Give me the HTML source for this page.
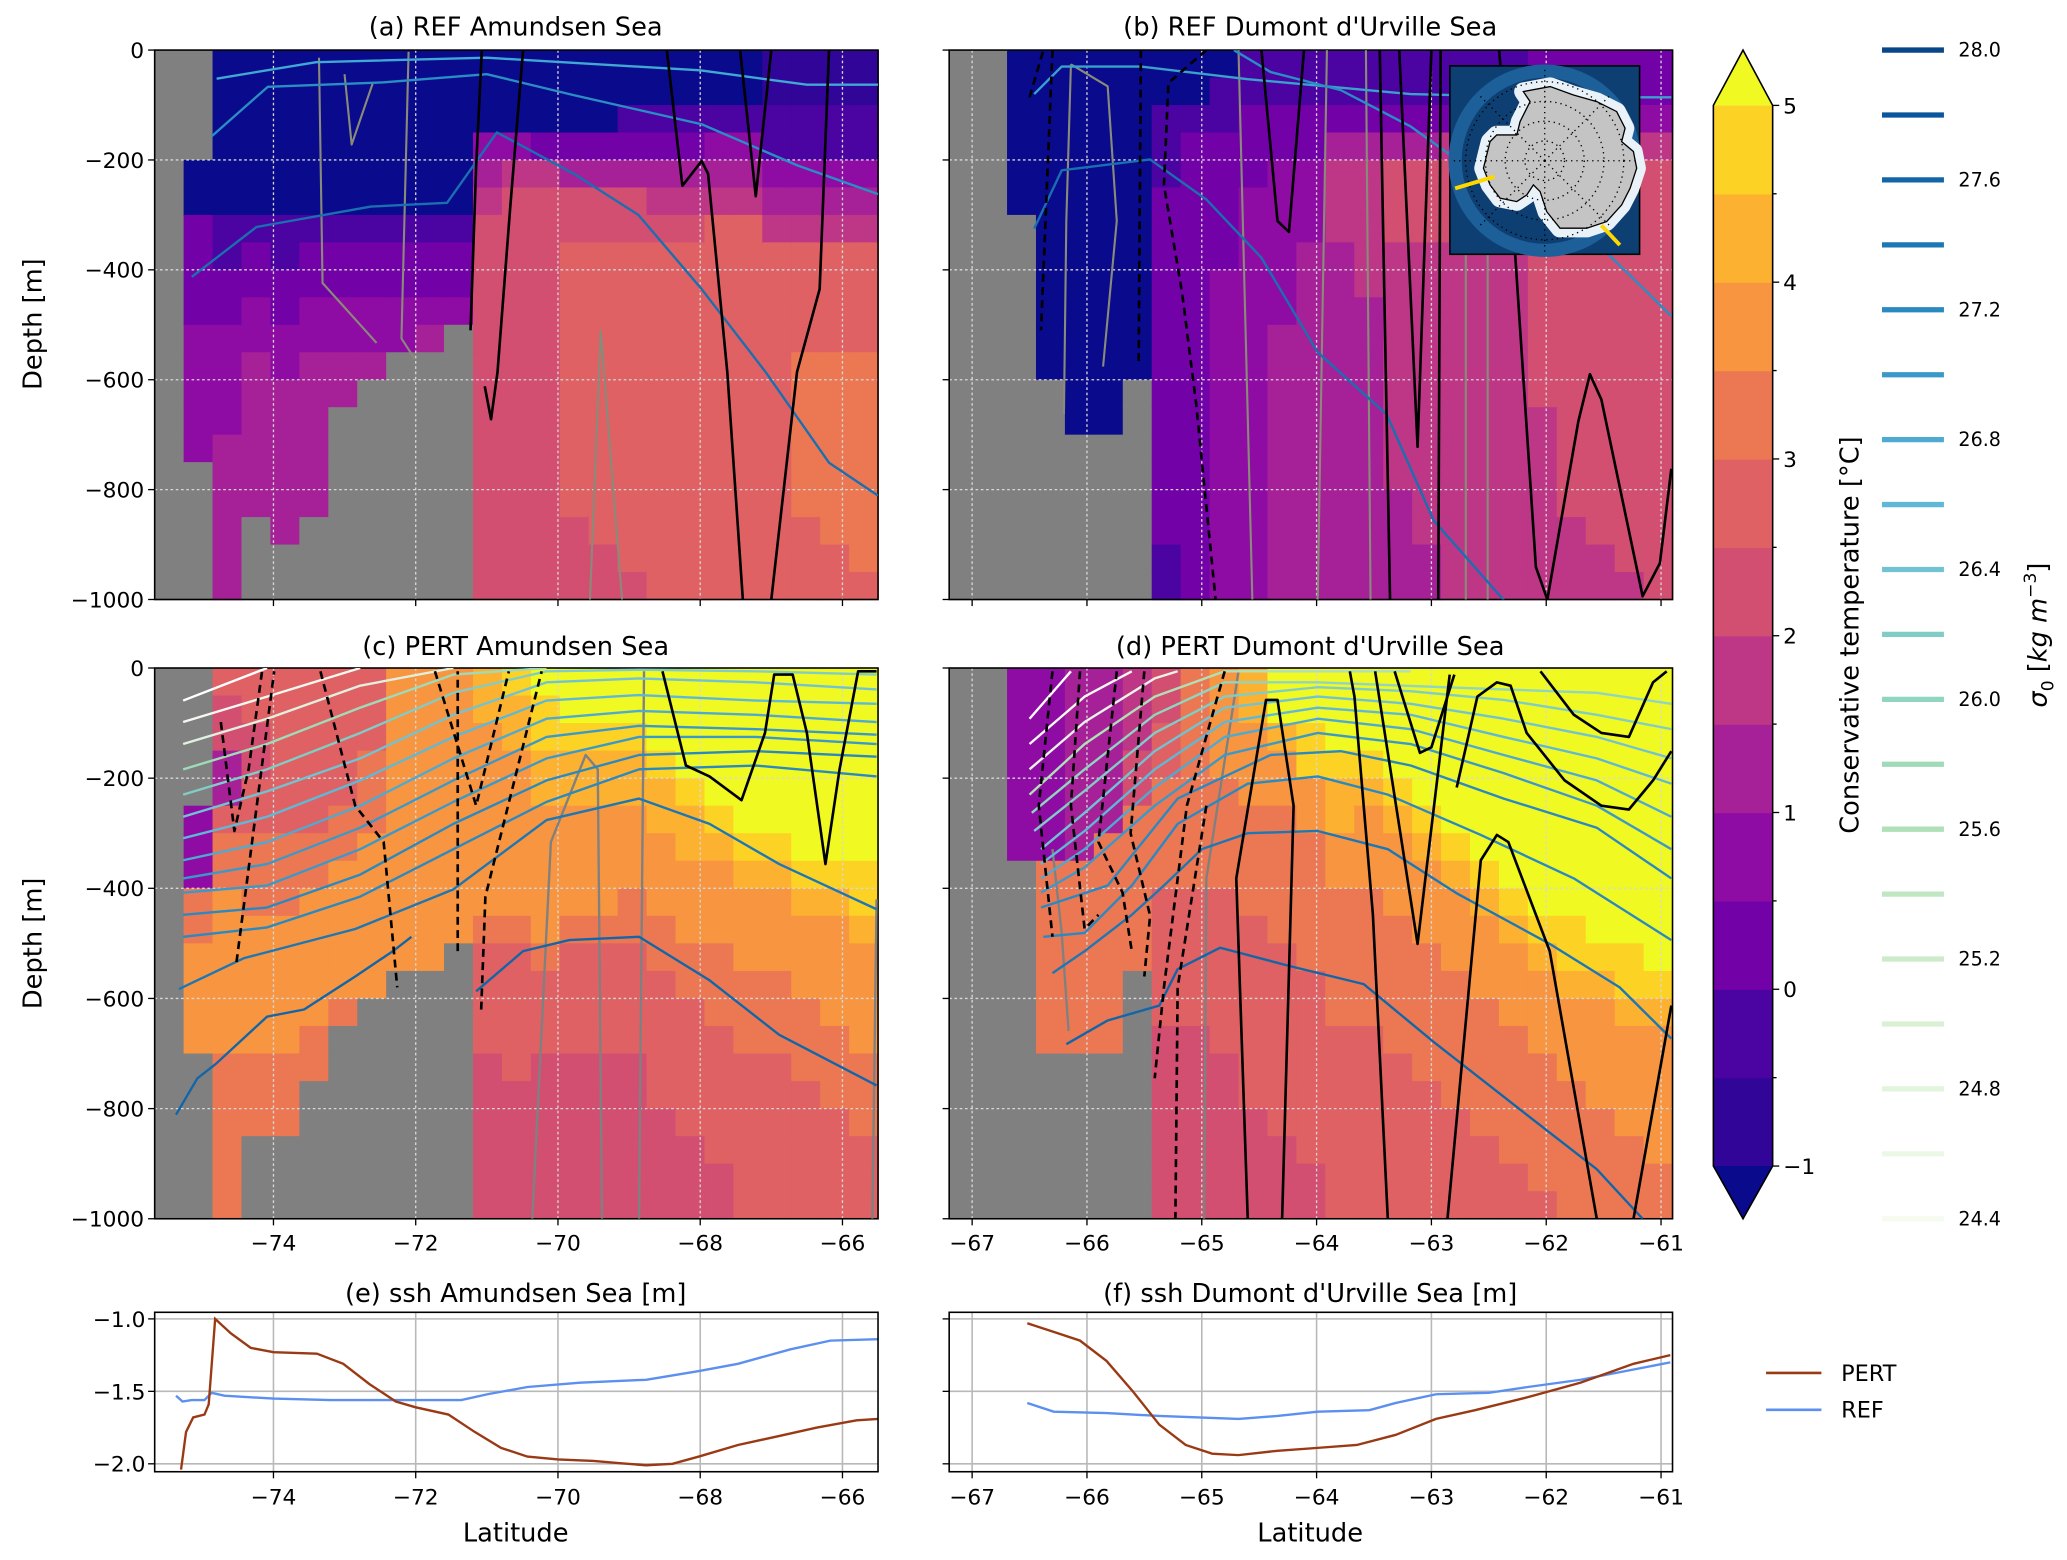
<!DOCTYPE html>
<html><head><meta charset="utf-8">
<style>
html,body{margin:0;padding:0;background:#fff;}
svg{display:block;}
text{font-family:"DejaVu Sans","Liberation Sans",sans-serif;fill:#000;}
</style></head>
<body>
<svg id="fig" xmlns="http://www.w3.org/2000/svg" width="2067" height="1560" viewBox="0 0 1568 1184">
<rect x="0" y="0" width="1568" height="1184" fill="#fff"/>
</svg>
<script>
// ---------- DATA ----------
const tempA = ["gggggggggggggggggggg","gggguu222233333ggggg","uuuuuu11223333444444","uuuuuu12233444444ggg","uuuuuu112233444444gg","uuuuuu12233444444ggg","uuuuuu1223344ggggggg","uuuuuu122334gggggggg","uuuuuu12233ggggggggg","uuuuuu12234ggggggggg","uuuuuu1223gggggggggg","uuu34566666666666666","uuu35666666666666666","uuu25666666666666666","uuu24667777777777666","uuu24667777777777766","uu124667777777777776","uu124567777777777777","uu124567777777777777","uu134577777777777777","uu134577777777777777","00113457777777777777","00113457777888888777","00113457777888888877","00113457777888888887"];
const tempB = ["gggggggggggggggggggg","gggggggggggggggggggg","uuuuuugggggggggggggg","uuuuuuuuuuuugggggggg","uuuuuuuuuuuuuugggggg","uuuuuuuuuuuuuugggggg","uuuuuuuuuuuugggggggg","uu111222222222222211","uu122222222222222222","u1122222333333333333","11222333333333333333","11223333334444444444","11223334444444444444","11245554444444444444","11245555544444444444","11246665555555554444","11246665555555555544","11256665555555555555","11256665555555555555","12355555555555555555","22356666666665555555","22356666666666666555","22356666666666666655","22356666666666666665","22356666666666666666"];
const tempC = ["gggggggggggggggggggg","ggggg333889999gggggg","76644788999999888888","77667788899999888ggg","77777788899999888ggg","777777889999988ggggg","7777788999998ggggggg","777888999999gggggggg","99999999999ggggggggg","99999999999ggggggggg","9999999999gggggggggg","aa999999987777666666","baa99999987777766666","cbbaa999998777666666","ccbaa999987777666666","ccbaa999987777666666","ccbaa999887777666666","cccbaa99988777776666","ccccbaa9998877777666","cccccba9998887777766","ccccccba999888777777","ccccccba999888777777","cccccccba99988877777","cccccccba99998887777","cccccccbba9999888777"];
const tempD = ["gggggggggggggggggggg","gggggggggggggggggggg","3333333ggggggggggggg","33333338888888gggggg","44444448888888gggggg","44444488888888gggggg","55566888888ggggggggg","66778888777776666666","88888888777776666666","99998888777777666666","aa999888877777776666","cca99888887777777666","ccbb9988888777777766","cccbaa99888887777777","cccba999888887777777","ccccba99988888777777","cccccba9998888877777","ccccccba999888887777","cccccccba99988888777","ccccccccba9998888877","cccccccccba999888887","cccccccccbba99988888","ccccccccccba99998888","ccccccccccbba9999888","cccccccccccba9999988"];

const isoALat = [[-74.8,-73.4,-71,-68,-66.5,-65.5],[-74.87,-74.08,-72.47,-71.0,-69.78,-67.98,-66.63,-65.5],[-75.15,-74.24,-72.63,-71.56,-70.86,-69.78,-68.87,-67.98,-67.08,-66.19,-65.5]];
const isoADep = [[52,22,14,37,63,63],[157,67,59,44,82,135,210,262],[413,322,285,278,150,225,300,435,586,751,811]];
const velALat = [[-71.23,-71.15,-71.07],[-70.49,-70.67,-70.85,-70.94,-71.03],[-68.47,-68.25,-67.98,-67.89,-67.62,-67.4],[-67.44,-67.22,-67.0],[-66.19,-66.32,-66.64,-67.0]];
const velADep = [[510,210,0],[0,285,586,672,612],[0,247,202,225,586,1000],[0,266,0],[0,435,586,1000]];
const grayALat = [[-69.55,-69.4,-69.1],[-73.36,-73.31,-72.55],[-72.1,-72.2,-72.01],[-73.0,-72.9,-72.6]];
const grayADep = [[1000,510,1000],[14,424,533],[3,525,563],[44,172,59]];

const isoBLat = [[-66.46,-66.22,-65.53,-64.6,-63.18,-61.97,-60.91],[-66.46,-66.22,-65.45,-64.96,-64.48,-63.99,-63.39,-62.98,-62.37],[-64.72,-64.4,-63.79,-63.18,-62.78,-61.97,-61.56,-60.91]];
const isoBDep = [[80,30,30,53,80,86,86],[325,219,199,272,378,550,663,856,1001],[0,40,73,139,199,278,351,484]];
const velBLat = [[-64.48,-64.34,-64.24,-64.11],[-63.45,-63.36],[-63.28,-63.12,-63.0],[-62.92,-62.94],[-62.41,-62.29,-62.09,-61.99,-61.72,-61.62,-61.52,-61.16,-61.01,-60.91]];
const velBDep = [[0,311,331,0],[0,1000],[0,722,0],[0,1000],[0,311,941,1000,676,590,636,994,934,762]];
const dashBLat = [[-66.5,-66.38],[-66.3,-66.4],[-65.53,-65.55],[-64.96,-65.29,-65.33,-65.17,-65.05,-64.88]];
const dashBDep = [[86,0],[0,510],[0,570],[0,60,245,444,643,1000]];
const grayBLat = [[-66.14,-65.82,-65.74,-65.86],[-66.14,-66.18,-66.2],[-64.68,-64.56],[-63.91,-63.99],[-63.57,-63.53],[-62.7,-62.7],[-62.51,-62.51]];
const grayBDep = [[26,66,311,576],[26,311,663],[0,1000],[0,1000],[0,1000],[200,1000],[200,1000]];

const latS = [-75.27,-74.09,-72.78,-71.47,-70.16,-68.86,-67.22,-65.52];
const isoCLat = [[-75.37,-75.07,-74.81,-74.09,-73.57,-72.85,-72.32,-72.06],[-71.15,-70.49,-69.84,-68.86,-67.87,-66.89,-65.52],[-75.33,-74.42,-72.85,-71.47,-70.16,-68.86,-67.87,-66.89,-65.52],latS,latS,latS,latS,latS,latS,latS,latS,latS.slice(0,5),latS.slice(0,4),latS.slice(0,3),latS.slice(0,2)];
const isoCDep = [[811,745,719,633,620,560,514,488],[587,514,494,488,567,666,758],[583,527,474,402,276,237,283,356,438],[488,471,415,329,243,184,177,197],[448,435,375,283,204,158,151,161],[408,395,329,243,164,125,125,138],[382,356,290,204,125,105,111,121],[349,316,250,164,92,78,85,98],[309,270,204,125,59,49,59,65],[270,224,164,85,26,19,26,39],[230,184,118,45,6,3,6,12],[184,138,72,12,0],[138,92,32,0],[98,52,0],[59,0]];
const velCLat = [[-68.53,-68.2,-67.87,-67.42,-67.09,-66.96,-66.7,-66.5,-66.24,-66.04,-65.78,-65.52]];
const velCDep = [[6,177,197,240,118,12,12,118,356,184,6,6]];
const dashCLat = [[-74.74,-74.55,-74.35,-74.16],[-74.52,-73.99],[-73.34,-72.85,-72.45,-72.26],[-71.41,-71.41],[-71.08,-71.02,-70.23],[-71.73,-71.15,-70.69]];
const dashCDep = [[98,296,184,6],[534,6],[6,250,316,580],[514,6],[620,415,6],[6,250,6]];
const grayCLat = [[-70.36,-70.1,-69.61,-69.44,-69.38],[-68.86,-68.79],[-65.58,-65.52]];
const grayCDep = [[1000,316,158,184,1000],[1000,6],[1000,420]];

const isoDLat = [[-66.18,-65.82,-65.37,-65.21,-64.84,-64.24,-63.59,-62.98,-62.17,-61.56,-61.16],[-66.3,-66.02,-65.61,-65.33,-65.0,-64.6,-63.99,-63.38,-62.78,-61.97,-61.36,-60.91],[-66.38,-66.02,-65.61,-65.21,-64.6,-63.99,-63.38,-62.57,-61.76,-60.91],[-66.4,-65.82,-65.21,-64.4,-63.79,-63.18,-62.37,-61.56,-60.91],[-66.4,-66.02,-65.41,-64.8,-63.99,-63.18,-62.37,-61.56,-60.91],[-66.4,-66.02,-65.41,-64.8,-63.99,-63.18,-62.37,-61.56,-60.91],[-66.4,-66.02,-65.41,-64.8,-63.99,-63.18,-62.37,-61.56,-60.91],[-66.4,-66.02,-65.41,-64.8,-63.99,-63.18,-62.37,-61.56,-60.91],[-66.46,-66.02,-65.41,-64.8,-63.99,-63.18,-62.37,-61.56,-60.91],[-66.48,-66.02,-65.41,-64.8,-63.99,-62.37,-61.56,-60.91],[-66.5,-66.02,-65.41,-64.8,-63.18],[-66.5,-66.02,-65.41,-65.21],[-66.5,-66.02,-65.61],[-66.5,-66.14]];
const isoDDep = [[683,640,613,547,508,541,574,679,811,910,1000],[554,514,448,395,329,300,296,329,409,501,580,673],[488,481,395,283,210,197,230,303,382,494],[435,395,237,158,151,177,237,290,382],[408,362,250,158,118,138,191,250,329],[382,329,217,125,92,111,158,204,270],[356,296,184,98,72,85,125,164,210],[329,263,151,72,52,65,92,125,164],[296,223,118,52,35,42,58,85,111],[263,184,85,26,26,39,45,65],[230,138,52,6,6],[184,98,19,6],[138,52,6],[92,6]];
const velDLat = [[-64.6,-64.7,-64.44,-64.34,-64.2,-64.3],[-63.71,-63.67,-63.51,-63.38],[-63.49,-63.12,-62.84],[-63.32,-63.1,-63.0,-62.8],[-62.86,-62.57,-62.43,-62.33,-61.97,-61.56],[-62.78,-62.6,-62.43,-62.31,-62.17,-61.84,-61.52,-61.28,-61.07,-60.91],[-62.05,-61.76,-61.52,-61.28,-61.07,-60.95],[-61.24,-60.91]];
const velDDep = [[1000,382,58,58,250,1000],[6,52,448,1000],[6,501,12],[6,154,144,12],[1000,349,303,316,514,1000],[217,52,26,32,118,204,250,257,204,151],[6,85,118,125,26,6],[1000,613]];
const dashDLat = [[-66.3,-66.42,-66.3],[-66.06,-66.14,-66.02,-65.9],[-65.74,-65.9,-65.69,-65.61],[-65.5,-65.62,-65.45,-65.5],[-64.8,-65.13,-65.33,-65.41],[-64.96,-65.21,-65.23]];
const dashDDep = [[6,250,488],[6,250,474,448],[6,316,408,514],[6,300,450,560],[6,250,580,745],[250,580,1000]];
const grayDLat = [[-64.68,-64.96,-64.98],[-66.3,-66.22,-66.16]];
const grayDDep = [[6,382,1000],[329,481,659]];

const sshELatPert = [-75.3,-75.23,-75.13,-74.97,-74.91,-74.82,-74.6,-74.32,-74.0,-73.39,-73.02,-72.65,-72.28,-72.0,-71.54,-71.17,-70.8,-70.43,-70.0,-69.5,-69.13,-68.76,-68.39,-68.02,-67.47,-66.91,-66.36,-65.8,-65.5];
const sshEPert = [-2.04,-1.78,-1.68,-1.66,-1.59,-1.0,-1.10,-1.20,-1.23,-1.24,-1.31,-1.45,-1.57,-1.61,-1.66,-1.78,-1.89,-1.95,-1.97,-1.98,-1.995,-2.01,-2.0,-1.95,-1.87,-1.81,-1.75,-1.70,-1.69];
const sshELatRef = [-75.37,-75.28,-75.15,-74.97,-74.87,-74.69,-74.0,-73.2,-72.28,-71.36,-70.99,-70.43,-69.69,-68.76,-68.02,-67.47,-66.73,-66.17,-65.5];
const sshERef = [-1.53,-1.57,-1.56,-1.56,-1.51,-1.53,-1.55,-1.56,-1.56,-1.56,-1.52,-1.47,-1.44,-1.42,-1.36,-1.31,-1.21,-1.15,-1.14];
const sshFLatPert = [-66.52,-66.29,-66.06,-65.83,-65.6,-65.37,-65.14,-64.91,-64.68,-64.34,-63.99,-63.65,-63.31,-62.96,-62.62,-62.16,-61.7,-61.24,-60.92];
const sshFPert = [-1.03,-1.09,-1.15,-1.29,-1.50,-1.73,-1.87,-1.93,-1.94,-1.91,-1.89,-1.87,-1.80,-1.69,-1.63,-1.54,-1.44,-1.31,-1.25];
const sshFLatRef = [-66.52,-66.29,-65.83,-65.37,-64.68,-64.34,-63.99,-63.54,-63.31,-62.96,-62.5,-62.16,-61.7,-60.92];
const sshFRef = [-1.58,-1.64,-1.65,-1.67,-1.69,-1.67,-1.64,-1.63,-1.58,-1.52,-1.51,-1.47,-1.42,-1.30];

const latTicksA = [-74,-72,-70,-68,-66];
const latTicksB = [-67,-66,-65,-64,-63,-62,-61];
const depthTicks = [0,-200,-400,-600,-800,-1000];
const sshTicks = [-1.0,-1.5,-2.0];
const cbTicks = [-1,0,1,2,3,4,5];
const sigmaLevels = [28.0,27.8,27.6,27.4,27.2,27.0,26.8,26.6,26.4,26.2,26.0,25.8,25.6,25.4,25.2,25.0,24.8,24.6,24.4];

// ---------- DRAWING ----------
const NS="http://www.w3.org/2000/svg";
const svg=document.getElementById('fig');
function mk(tag,attrs,parent){const e=document.createElementNS(NS,tag);for(const k in attrs)e.setAttribute(k,attrs[k]);(parent||svg).appendChild(e);return e;}
function txt(s,x,y,size,anchor,parent){const t=mk('text',{x:x,y:y,'font-size':size,'text-anchor':anchor||'middle'},parent);t.textContent=s;return t;}
const bandCol={u:'#0a0a8c','0':'#300597','1':'#4b03a1','2':'#7201a8','3':'#8e0ca4','4':'#a62098','5':'#bd3786','6':'#d24f71','7':'#df6164','8':'#ec7853','9':'#f89540',a:'#fdb130',b:'#fcd225',c:'#f0f921',g:'#808080'};
const sigPal=['#08468a','#0a559c','#1266a8','#1c77b4','#2a89c0','#3b99c9','#4eaad1','#5fb9d6','#72c3d1','#80cdc6','#8fd5c0','#9fdab9','#b0e0b7','#c0e6c2','#cdebca','#d9f0d4','#e3f4dd','#ecf8e6','#f5fbef'];

function makePanel(x0,x1,y0,y1,lat0,lat1){return {x0,x1,y0,y1,lat0,lat1,sx:l=>x0+(l-lat0)/(lat1-lat0)*(x1-x0),sy:d=>y0+d/1000*(y1-y0)};}
const PA=makePanel(117,666,38,455,-75.67,-65.5);
const PB=makePanel(720,1269,38,455,-67.2,-60.9);
const PC=makePanel(117,666,507,925,-75.67,-65.5);
const PD=makePanel(720,1269,507,925,-67.2,-60.9);

function drawField(P,cols,name){
  const g=mk('g',{});
  
  
  const nc=cols.length, dl=(P.lat1-P.lat0)/nc;
  for(let i=0;i<nc;i++){
    const xa=P.sx(P.lat0+i*dl), xb=P.sx(P.lat0+(i+1)*dl);
    for(let j=0;j<cols[i].length;j++){
      const ya=P.sy(j*50), yb=P.sy((j+1)*50);
      const r=mk('rect',{x:xa,y:ya,width:xb-xa+0.6,height:yb-ya+0.6,fill:bandCol[cols[i][j]]},g);
      
      
    }
  }
}
function drawLines(P,lats,deps,color,w,dash,name){
  for(let k=0;k<lats.length;k++){
    const pts=lats[k].map((l,i)=>P.sx(l).toFixed(1)+','+P.sy(deps[k][i]).toFixed(1)).join(' ');
    const c=Array.isArray(color)?color[k]:color;
    const p=mk('polyline',{points:pts,fill:'none',stroke:c,'stroke-width':w,'stroke-linejoin':'round','clip-path':'url(#clip'+name[0]+')'});
    if(dash)p.setAttribute('stroke-dasharray',dash);
    
    
  }
}
const defs=mk('defs',{});
[['a',PA],['b',PB],['c',PC],['d',PD]].forEach(([n,P])=>{const cp=mk('clipPath',{id:'clip'+n},defs);mk('rect',{x:P.x0,y:P.y0,width:P.x1-P.x0,height:P.y1-P.y0},cp);});

function gridAndAxes(P,ticks,showX,showY,name){
  ticks.forEach(t=>{const l=mk('line',{x1:P.sx(t),x2:P.sx(t),y1:P.y0,y2:P.y1,stroke:'#d8d8d8','stroke-width':1,'stroke-dasharray':'2,2'});
    });
  depthTicks.slice(1,5).forEach(t=>{const l=mk('line',{x1:P.x0,x2:P.x1,y1:P.sy(-t),y2:P.sy(-t),stroke:'#d8d8d8','stroke-width':1,'stroke-dasharray':'2,2'});
    });
  const f=mk('rect',{x:P.x0,y:P.y0,width:P.x1-P.x0,height:P.y1-P.y0,fill:'none',stroke:'#000','stroke-width':1.2});
  
  ticks.forEach(t=>{mk('line',{x1:P.sx(t),x2:P.sx(t),y1:P.y1,y2:P.y1+5,stroke:'#000','stroke-width':1});
    if(showX){const tx=txt('\u2212'+Math.abs(t),P.sx(t),P.y1+24,16.5);}});
  depthTicks.forEach(t=>{mk('line',{x1:P.x0-5,x2:P.x0,y1:P.sy(-t),y2:P.sy(-t),stroke:'#000','stroke-width':1});
    if(showY){const tx=txt(t===0?'0':'\u2212'+Math.abs(t),P.x0-8,P.sy(-t)+6,16.5,'end');}});
}

drawField(PA,tempA,'panel-a');drawField(PB,tempB,'panel-b');drawField(PC,tempC,'panel-c');drawField(PD,tempD,'panel-d');
gridAndAxes(PA,latTicksA,false,true,'panel-a');
gridAndAxes(PB,latTicksB,false,false,'panel-b');
gridAndAxes(PC,latTicksA,true,true,'panel-c');
gridAndAxes(PD,latTicksB,true,false,'panel-d');

drawLines(PA,grayALat,grayADep,'#8a8a7a',1.6,null,'a-gray');
drawLines(PA,isoALat,isoADep,['#3fa8d4','#2a8dc4','#1a6fb0'],1.8,null,'a-isopycnal');
drawLines(PA,velALat,velADep,'#000',2,null,'a-velocity');
drawLines(PB,grayBLat,grayBDep,'#8a8a7a',1.6,null,'b-gray');
drawLines(PB,isoBLat,isoBDep,['#3aa0cc','#1a6fb0','#2a8dc4'],1.8,null,'b-isopycnal');
drawLines(PB,velBLat,velBDep,'#000',2,null,'b-velocity');
drawLines(PB,dashBLat,dashBDep,'#000',2,'6,4','b-velocity-neg');
const cIsoCols=[sigPal[2],sigPal[2],sigPal[3],sigPal[4],sigPal[4],sigPal[5],sigPal[5],sigPal[6],sigPal[7],sigPal[8],sigPal[9],sigPal[11],'#e0f0e0','#f4f8f0','#ffffff'];
drawLines(PC,grayCLat,grayCDep,'#808080',1.8,null,'c-gray');
drawLines(PC,isoCLat,isoCDep,cIsoCols,1.8,null,'c-isopycnal');
drawLines(PC,velCLat,velCDep,'#000',2,null,'c-velocity');
drawLines(PC,dashCLat,dashCDep,'#000',2,'6,4','c-velocity-neg');
const dIsoCols=[sigPal[2],sigPal[3],sigPal[4],sigPal[4],sigPal[5],sigPal[6],sigPal[7],sigPal[8],sigPal[9],sigPal[10],sigPal[12],'#e8f4e8','#f6faf2','#ffffff'];
drawLines(PD,grayDLat,grayDDep,'#808080',1.8,null,'d-gray');
drawLines(PD,isoDLat,isoDDep,dIsoCols,1.8,null,'d-isopycnal');
drawLines(PD,velDLat,velDDep,'#000',2,null,'d-velocity');
drawLines(PD,dashDLat,dashDDep,'#000',2,'6,4','d-velocity-neg');

// inset map
(function(){
  const g=mk('g',{});
  
  
  mk('rect',{x:1100,y:50,width:144,height:143,fill:'#0d3f73',stroke:'#000','stroke-width':1.2},g);
  mk('circle',{cx:1172,cy:122,r:68,fill:'none',stroke:'#1c5f99','stroke-width':10},g);
  const cont='M1155.8,69.5 L1176.1,65.7 L1193.8,72.1 L1211.5,77.1 L1226.6,84.7 L1233,97.3 L1230.4,107.5 L1239.3,115 L1241.8,127.7 L1236.8,142.9 L1230.4,155.5 L1219,168.2 L1203.9,173.2 L1183.6,173.2 L1173.5,160.6 L1168.5,145.4 L1163.4,140.3 L1158.4,147.9 L1150.8,153 L1138.1,150.4 L1130.5,140.3 L1125.5,127.7 L1130.5,107.5 L1135.6,102.4 L1150.8,102.4 L1153.3,92.3 L1160.9,77.1 Z';
  mk('path',{d:cont,fill:'#e8f2f8',stroke:'#e8f2f8','stroke-width':14,'stroke-linejoin':'round'},g);
  mk('path',{d:cont,fill:'#c4c4c4',stroke:'#000','stroke-width':1},g);
  [15,30,45,60].forEach(r=>mk('circle',{cx:1172,cy:122,r:r,fill:'none',stroke:'#000','stroke-width':1,'stroke-dasharray':'1,3'},g));
  for(let a=0;a<360;a+=45){const rd=a*Math.PI/180;mk('line',{x1:1172,y1:122,x2:1172+70*Math.cos(rd),y2:122+70*Math.sin(rd),stroke:'#000','stroke-width':1,'stroke-dasharray':'1,3'},g);}
  mk('line',{x1:1104,y1:143,x2:1134,y2:134,stroke:'#ffd700','stroke-width':3},g);
  mk('line',{x1:1215,y1:171,x2:1229,y2:186,stroke:'#ffd700','stroke-width':3},g);
})();

// ssh panels
const PE={x0:117,x1:666,y0:996,y1:1117,lat0:-75.67,lat1:-65.5};
const PF={x0:720,x1:1269,y0:996,y1:1117,lat0:-67.2,lat1:-60.9};
[PE,PF].forEach(P=>{P.sx=l=>P.x0+(l-P.lat0)/(P.lat1-P.lat0)*(P.x1-P.x0);P.sv=v=>1001+(-1-v)*110;});
function sshPanel(P,ticks,latP,valP,latR,valR,showY,name){
  ticks.forEach(t=>{const l=mk('line',{x1:P.sx(t),x2:P.sx(t),y1:P.y0,y2:P.y1,stroke:'#b8b8b8','stroke-width':1.2});});
  sshTicks.forEach(t=>{const l=mk('line',{x1:P.x0,x2:P.x1,y1:P.sv(t),y2:P.sv(t),stroke:'#b8b8b8','stroke-width':1.2});
    mk('line',{x1:P.x0-5,x2:P.x0,y1:P.sv(t),y2:P.sv(t),stroke:'#000','stroke-width':1});
    if(showY){const tx=txt('\u2212'+Math.abs(t).toFixed(1),P.x0-7,P.sv(t)+6,16.5,'end');}});
  const cp=mk('clipPath',{id:'clip'+name},defs);mk('rect',{x:P.x0,y:P.y0,width:P.x1-P.x0,height:P.y1-P.y0},cp);
  const pr=mk('polyline',{points:latR.map((l,i)=>P.sx(l).toFixed(1)+','+P.sv(valR[i]).toFixed(1)).join(' '),fill:'none',stroke:'#5b8ff0','stroke-width':1.8,'clip-path':'url(#clip'+name+')'});
  
  const pp=mk('polyline',{points:latP.map((l,i)=>P.sx(l).toFixed(1)+','+P.sv(valP[i]).toFixed(1)).join(' '),fill:'none',stroke:'#9a3a14','stroke-width':1.8,'clip-path':'url(#clip'+name+')'});
  
  const f=mk('rect',{x:P.x0,y:P.y0,width:P.x1-P.x0,height:P.y1-P.y0,fill:'none',stroke:'#000','stroke-width':1.2});
  
  ticks.forEach(t=>{mk('line',{x1:P.sx(t),x2:P.sx(t),y1:P.y1,y2:P.y1+5,stroke:'#000','stroke-width':1});
    const tx=txt('\u2212'+Math.abs(t),P.sx(t),P.y1+25,16.5);});
}
sshPanel(PE,latTicksA,sshELatPert,sshEPert,sshELatRef,sshERef,true,'ssh-e');
sshPanel(PF,latTicksB,sshFLatPert,sshFPert,sshFLatRef,sshFRef,false,'ssh-f');

// colorbar
(function(){
  const cx0=1300,cx1=1345,yTop=80,yBot=885,cm=(cx0+cx1)/2;
  const cy=v=>yBot-(v+1)/6*(yBot-yTop);
  const order='0123456789ab';
  for(let i=0;i<12;i++){const r=mk('rect',{x:cx0,y:cy(-1+(i+1)*0.5),width:cx1-cx0,height:(yBot-yTop)/12+0.5,fill:bandCol[order[i]]});
    }
  const t1=mk('polygon',{points:cx0+','+yTop+' '+cm+',38 '+cx1+','+yTop,fill:bandCol.c});
  
  const t2=mk('polygon',{points:cx0+','+yBot+' '+cm+',925 '+cx1+','+yBot,fill:bandCol.u});
  
  mk('polygon',{points:`${cx0},${yTop} ${cm},38 ${cx1},${yTop} ${cx1},${yBot} ${cm},925 ${cx0},${yBot}`,fill:'none',stroke:'#000','stroke-width':1.2});
  for(let v=-1;v<=5;v+=0.5){mk('line',{x1:cx1,x2:cx1+(v%1===0?5:3),y1:cy(v),y2:cy(v),stroke:'#000','stroke-width':1});}
  cbTicks.forEach(v=>{const tx=txt(v<0?'\u2212'+Math.abs(v):String(v),cx1+8,cy(v)+6,16.5,'start');});
  const lab=txt('Conservative temperature [°C]',0,0,19.5);lab.setAttribute('transform','translate(1410,482) rotate(-90)');
  
})();

// sigma legend
(function(){
  const step=(925-38)/(sigmaLevels.length-1);
  sigmaLevels.forEach((s,i)=>{const y=38+i*step;
    const l=mk('line',{x1:1428,x2:1475,y1:y,y2:y,stroke:sigPal[i],'stroke-width':4});
    
    if(i%2===0){const tx=txt(s.toFixed(1),1486,y+5,14.5,'start');}});
  const lab=mk('text',{'font-size':19.5,'text-anchor':'middle',transform:'translate(1553,482) rotate(-90)'});
  
  lab.innerHTML='<tspan font-style="italic">σ</tspan><tspan font-size="13" dy="5">0</tspan><tspan dy="-5"> [</tspan><tspan font-style="italic">kg m</tspan><tspan font-size="13" dy="-8">−3</tspan><tspan dy="8">]</tspan>';
})();

[['(a) REF Amundsen Sea',391,27,'title-a'],["(b) REF Dumont d'Urville Sea",994,27,'title-b'],['(c) PERT Amundsen Sea',391,497,'title-c'],["(d) PERT Dumont d'Urville Sea",994,497,'title-d'],['(e) ssh Amundsen Sea [m]',391,988,'title-e'],["(f) ssh Dumont d'Urville Sea [m]",994,988,'title-f'],['Latitude',391,1170,'x-axis-title-e'],['Latitude',994,1170,'x-axis-title-f']].forEach(([s,x,y,n])=>{
  const t=txt(s,x,y,19.5);});
[[246,'y-axis-title-a'],[716,'y-axis-title-c']].forEach(([y,n])=>{const t=txt('Depth [m]',0,0,19.5);t.setAttribute('transform','translate(31,'+y+') rotate(-90)');});

(function(){
  const g=mk('g',{});
  const l1=mk('line',{x1:1340,x2:1382,y1:1042,y2:1042,stroke:'#9a3a14','stroke-width':2},g);
  
  txt('PERT',1397,1048,17,'start',g);
  const l2=mk('line',{x1:1340,x2:1382,y1:1070,y2:1070,stroke:'#5b8ff0','stroke-width':2},g);
  
  txt('REF',1397,1076,17,'start',g);
})();
</script>
</body></html>
